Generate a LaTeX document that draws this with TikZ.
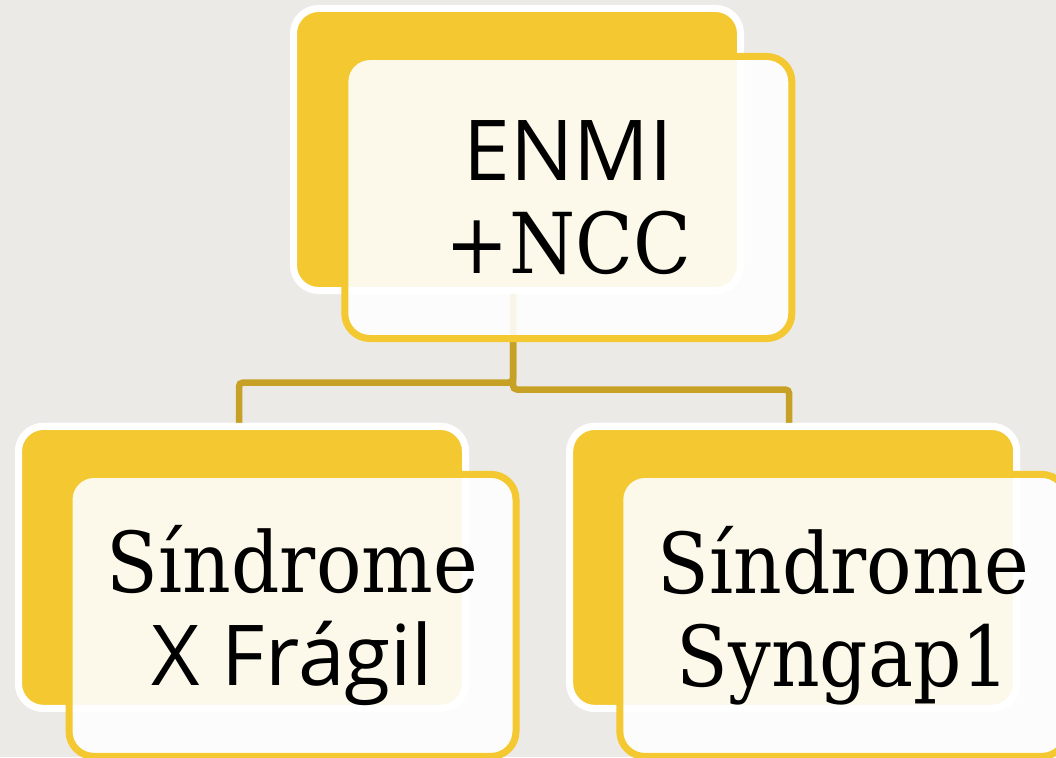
\documentclass[tikz,border=0pt]{standalone}
\usepackage{fontspec}
\setmainfont{DejaVu Serif}[FakeStretch=0.9]
\setsansfont{Open Sans}
\definecolor{bg}{RGB}{236,234,231}
\definecolor{gold}{RGB}{243,200,48}
\definecolor{conncol}{RGB}{198,161,38}
\tikzset{
  backbox/.style={draw=white, fill=gold, line width=7pt, rounded corners=25pt,
    minimum width=447pt, minimum height=282pt, inner sep=0pt},
  frontbox/.style={draw=gold, fill=white, fill opacity=0.9, text opacity=1, line width=7pt, rounded corners=25pt,
    minimum width=447pt, minimum height=282pt, inner sep=0pt, align=center,
    font=\fontsize{84}{93}\selectfont},
  conn/.style={draw=conncol, line width=6.5pt, rounded corners=4pt}
}
\begin{document}
\begin{tikzpicture}[x=1pt,y=-1pt]
\fill[bg] (0,0) rectangle (1056,757);
\useasboundingbox (0,0) rectangle (1056,757);
% back boxes
\node[backbox] (tb) at (517,149.5) {};
\node[backbox] (bl) at (242,567.4) {};
\node[backbox] (br) at (793.2,567.4) {};
% connectors
\draw[conn] ([xshift=-4pt]tb.south) -- ++(0,88.5) -| ([xshift=-3pt]bl.north);
\draw[conn] ([xshift=-4pt]tb.south) -- ++(0,95.5) -| ([xshift=-4pt]br.north);
% redraw back boxes above connector ends
\node[backbox] at (bl) {};
\node[backbox] at (br) {};
% front boxes
\node[frontbox] (tf) at (568.3,197.5) {{\sffamily ENMI}\\+NCC};
\node[frontbox] (blf) at (292.5,615.4) {Síndrome\\{\sffamily X Frágil}};
\node[frontbox] (brf) at (843.3,615.4) {Síndrome\\Syngap1};
\end{tikzpicture}
\end{document}
